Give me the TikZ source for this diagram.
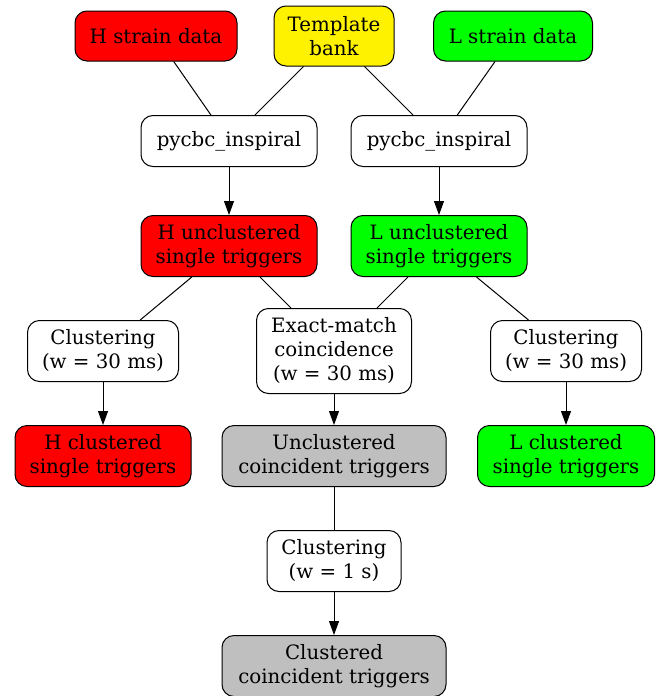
\documentclass[tikz,border=0pt]{standalone}
\usepackage{fontspec}
\setmainfont{DejaVu Serif}
\usetikzlibrary{arrows.meta}
\begin{document}
\begin{tikzpicture}[x=1pt,y=-1pt,
  box/.style={draw=black, line width=1pt, rounded corners=12pt, align=center, inner sep=0pt,
    font=\fontsize{19.8}{24}\selectfont},
  ln/.style={line width=1pt},
  arr/.style={line width=1pt, -{Triangle[length=14pt,width=10pt]}}]
\useasboundingbox (0,0) rectangle (666,696);
\node[box, fill=red, minimum width=162pt, minimum height=50pt] (hs) at (156,36) {H strain data};
\node[box, fill=yellow, minimum width=120pt, minimum height=60pt] (tb) at (334,36) {Template\\bank};
\node[box, fill=green, minimum width=159pt, minimum height=50pt] (ls) at (513,36) {L strain data};
\node[box, fill=white, minimum width=176pt, minimum height=51pt] (pl) at (229,141) {pycbc\_inspiral};
\node[box, fill=white, minimum width=176pt, minimum height=51pt] (pr) at (439,141) {pycbc\_inspiral};
\node[box, fill=red, minimum width=176pt, minimum height=61pt] (hu) at (229,246) {H unclustered\\single triggers};
\node[box, fill=green, minimum width=176pt, minimum height=61pt] (lu) at (439,246) {L unclustered\\single triggers};
\node[box, fill=white, minimum width=151pt, minimum height=61pt] (cl) at (103,351) {Clustering\\(w = 30 ms)};
\node[box, fill=white, minimum width=155pt, minimum height=85pt] (em) at (334,351) {Exact-match\\coincidence\\(w = 30 ms)};
\node[box, fill=white, minimum width=151pt, minimum height=61pt] (cr) at (566,351) {Clustering\\(w = 30 ms)};
\node[box, fill=red, minimum width=176pt, minimum height=61pt] (hc) at (103,456) {H clustered\\single triggers};
\node[box, fill={rgb,255:red,191;green,191;blue,191}, minimum width=224pt, minimum height=61pt] (uc) at (334,456) {Unclustered\\coincident triggers};
\node[box, fill=green, minimum width=177pt, minimum height=61pt] (lc) at (566,456) {L clustered\\single triggers};
\node[box, fill=white, minimum width=134pt, minimum height=61pt] (c1) at (334,561) {Clustering\\(w = 1 s)};
\node[box, fill={rgb,255:red,191;green,191;blue,191}, minimum width=224pt, minimum height=61pt] (cc) at (334,666) {Clustered\\coincident triggers};
\draw[ln] (hs) -- (pl);
\draw[ln] (tb) -- (pl);
\draw[ln] (tb) -- (pr);
\draw[ln] (ls) -- (pr);
\draw[arr] (pl) -- (hu);
\draw[arr] (pr) -- (lu);
\draw[ln] (hu) -- (cl);
\draw[ln] (hu) -- (em);
\draw[ln] (lu) -- (em);
\draw[ln] (lu) -- (cr);
\draw[arr] (cl) -- (hc);
\draw[arr] (em) -- (uc);
\draw[arr] (cr) -- (lc);
\draw[ln] (uc) -- (c1);
\draw[arr] (c1) -- (cc);
\end{tikzpicture}
\end{document}
